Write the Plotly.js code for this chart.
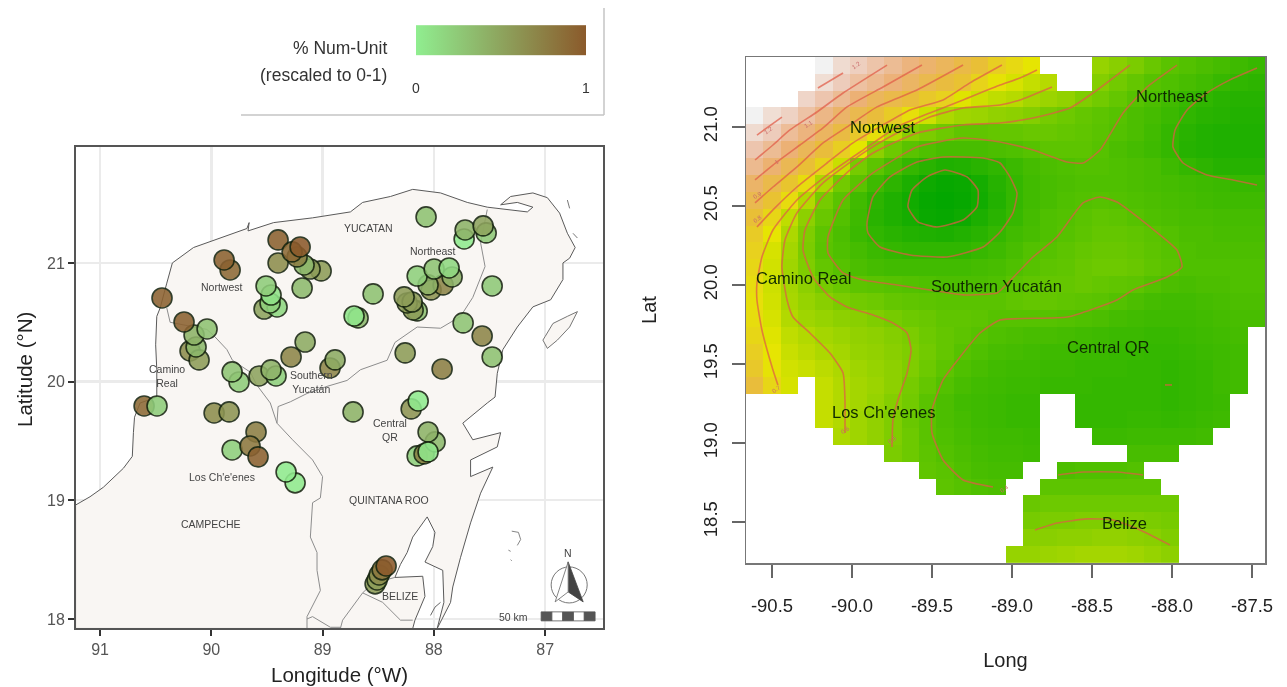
<!DOCTYPE html>
<html>
<head>
<meta charset="utf-8">
<script src="https://cdn.plot.ly/plotly-3.0.1.min.js"></script>
<style>html,body{margin:0;padding:0;background:#fff}#chart{width:1287px;height:687px;filter:blur(0.45px)}</style>
</head>
<body>
<div id="chart"></div>
<script>
var N = null;
// ---------- left map: sites ----------
var siteLon = [89.831,89.885,89.40,89.013,89.112,89.166,89.40,89.229,89.274,89.202,89.184,89.526,89.409,89.472,89.463,89.508,
  90.443,90.191,90.11,90.137,90.155,90.245,90.038,89.751,89.813,89.571,89.418,89.463,89.283,89.157,88.933,88.888,
  88.07,87.728,87.719,87.53,87.557,88.546,88.681,88.717,88.15,88.186,88.24,88.195,88.267,88.025,87.917,88.052,87.836,88.15,87.998,87.863,
  87.476,87.737,87.566,87.476,88.258,87.926,
  90.604,90.488,89.975,89.84,89.598,89.813,89.652,89.58,89.247,89.328,88.726,88.204,88.141,88.15,88.088,87.989,88.052,88.052,
  88.528,88.51,88.492,88.465,88.429];
var siteLat = [20.941,21.025,21.194,20.933,20.949,20.983,21.0,21.051,21.093,21.135,20.789,20.612,20.629,20.663,20.730,20.806,
  20.705,20.259,20.183,20.292,20.393,20.503,20.444,19.997,20.082,20.048,20.048,20.099,20.208,20.334,20.115,20.183,
  21.388,21.202,21.278,21.253,21.312,20.739,20.537,20.553,20.596,20.604,20.663,20.671,20.714,20.773,20.815,20.815,20.882,20.890,20.949,20.958,
  20.806,20.495,20.385,20.208,20.242,20.107,
  19.795,19.795,19.736,19.745,19.576,19.424,19.458,19.366,19.147,19.239,19.745,19.770,19.837,19.374,19.391,19.492,19.576,19.408,
  18.296,18.329,18.371,18.414,18.447];
var siteValue = [.9,.95,.95,.55,.55,.35,.65,.75,.9,1,.35,.5,.15,.2,.08,.22,
  .95,.65,.55,.35,.4,.95,.3,.22,.28,.5,.2,.4,.7,.45,.7,.45,
  .3,.02,.4,.25,.5,.3,.35,.05,.3,.55,.55,.55,.55,.6,.7,.4,.4,.2,.28,.15,
  .25,.28,.7,.3,.55,.75,
  .9,.22,.65,.6,.75,.2,.8,.95,.03,.02,.4,.6,.02,.2,.75,.35,.4,.05,
  .55,.55,.65,.8,1];
// ---------- left map: coast and borders (degrees west, degrees north) ----------
var coastLon = [91.22,91.22,91.09,90.97,90.79,90.71,90.70,90.69,90.64,90.49,90.49,90.50,90.49,90.46,90.40,90.35,90.16,89.89,89.68,89.66,89.67,89.44,89.09,88.75,88.64,88.39,88.19,87.94,87.70,87.52,87.34,87.16,87.11,87.25,87.40,87.31,87.11,86.98,86.87,86.80,86.73,86.78,86.84,86.84,86.95,87.11,87.25,87.38,87.43,87.45,87.52,87.74,87.65,87.40,87.43,87.67,87.67,87.47,87.58,87.67,87.76,87.83,87.85,87.94,87.97,87.91,87.92,88.08,88.01,87.99,88.06,88.19,88.24,88.30,88.35,88.10,88.08,88.17,88.19,91.22];
var coastLat = [17.92,18.96,19.03,19.11,19.27,19.37,19.57,19.70,19.82,19.87,20.10,20.31,20.55,20.62,20.83,21.00,21.13,21.22,21.29,21.34,21.27,21.34,21.38,21.43,21.51,21.56,21.62,21.59,21.51,21.47,21.45,21.43,21.47,21.51,21.49,21.56,21.59,21.55,21.42,21.25,21.13,21.04,21.00,20.86,20.69,20.63,20.46,20.27,20.07,19.87,19.82,19.65,19.51,19.57,19.45,19.34,19.20,19.28,19.06,18.81,18.52,18.27,18.14,17.97,17.92,18.14,18.41,18.48,18.61,18.73,18.86,18.69,18.56,18.46,18.35,18.36,18.19,17.99,17.92,17.92];
var cozumelLon = [87.00,86.93,86.80,86.71,86.78,86.89,86.98,87.02,87.00];
var cozumelLat = [20.38,20.49,20.55,20.59,20.46,20.35,20.28,20.35,20.38];
var mujeresLon = [86.80,86.78,N,86.75,86.71];
var mujeresLat = [21.53,21.46,N,21.25,21.21];
var chinchorroLon = [87.30,87.24,87.22,87.25,N,87.33,87.31,N,87.31,87.30];
var chinchorroLat = [18.74,18.73,18.67,18.62,N,18.58,18.57,N,18.50,18.49];
var keysLon = [87.99,87.94,N,88.03,87.99];
var keysLat = [18.10,18.14,N,18.03,18.10];
var borderALon = [90.40,90.37,90.04,89.97,89.86,89.81,89.65,89.59,89.47,89.41];
var borderALat = [20.62,20.50,20.44,20.38,20.27,20.18,20.08,19.97,19.82,19.65];
var borderBLon = [89.41,89.27,89.09,89.00,89.02,89.09,89.11,89.05,89.05,89.02,89.14,89.14];
var borderBLat = [19.65,19.51,19.34,19.20,19.02,18.98,18.69,18.56,18.41,18.24,18.02,17.92];
var borderCLon = [89.41,89.40,89.29,89.14,88.96,88.78,88.66,88.42,88.35,88.15,87.94,87.76,87.65,87.54,87.58,87.52];
var borderCLat = [19.65,19.79,19.83,19.90,19.96,20.01,20.10,20.18,20.33,20.46,20.45,20.55,20.71,20.97,21.17,21.45];
var belizeLineLon = [88.35,88.55,88.64,88.82,88.84,N,88.64,88.46,88.30,88.19,N,89.14,89.09,88.93,88.84];
var belizeLineLat = [18.35,18.30,18.22,17.99,17.92,N,18.22,18.14,17.99,17.99,N,18.00,18.02,17.93,17.93];
var arrowDarkLon = [86.793,86.658,86.793,86.793];
var arrowDarkLat = [18.481,18.144,18.228,18.481];
var arrowLightLon = [86.793,86.91,86.793,86.793];
var arrowLightLat = [18.481,18.144,18.228,18.481];
var scaleEdges = [87.036,86.939,86.842,86.745,86.648,86.551];
var mapLabels = ["YUCATAN","Northeast","Nortwest","Camino<br>Real","Southern<br>Yucatán","Central<br>QR","Los Ch'e'enes","CAMPECHE","QUINTANA ROO","BELIZE","50 km","N"];
var mapLabelLon = [88.591,88.007,89.903,90.398,89.103,88.393,89.903,90.002,88.402,88.303,87.288,86.793];
var mapLabelLat = [21.295,21.101,20.798,20.048,19.997,19.593,19.197,18.801,19.003,18.195,18.017,18.56];
var mapTicksX = [91,90,89,88,87];
var mapTicksY = [18,19,20,21];
// ---------- right map: surface values, rows listed north to south ----------
var surfaceRows = [
[N,N,N,N,1.30,1.22,1.18,1.13,1.08,1.03,.99,.95,.90,.86,.81,.77,.73,N,N,N,.55,.52,.49,.45,.41,.39,.37,.35,.33,.31],
[N,N,N,N,1.23,1.17,1.11,1.07,1.02,.97,.92,.88,.85,.79,.74,.69,.65,.62,N,N,.51,.47,.44,.40,.38,.36,.34,.31,.29,.28],
[N,N,N,1.2,1.14,1.08,1.01,.95,.91,.87,.83,.8,.71,.67,.64,.62,.58,.56,.54,.5,.47,.44,.40,.37,.34,.31,.29,.27,.26,.26],
[1.30,1.23,1.19,1.12,1.05,.98,.92,.87,.82,.75,.67,.6,.57,.56,.54,.53,.51,.48,.46,.44,.42,.40,.37,.35,.32,.29,.27,.26,.25,.25],
[1.22,1.17,1.09,1.03,.96,.89,.83,.75,.62,.52,.49,.46,.43,.43,.44,.44,.45,.45,.44,.43,.41,.39,.37,.34,.3,.27,.25,.24,.24,.24],
[1.14,1.08,1.01,.94,.87,.81,.72,.53,.46,.41,.38,.36,.36,.36,.37,.38,.40,.42,.42,.42,.40,.37,.35,.33,.3,.26,.25,.24,.24,.24],
[1.07,1.0,.93,.86,.79,.66,.48,.42,.36,.3,.27,.24,.25,.27,.29,.32,.35,.37,.38,.39,.39,.38,.37,.36,.33,.3,.28,.26,.26,.26],
[.98,.91,.84,.76,.6,.47,.41,.33,.28,.23,.19,.17,.18,.21,.26,.3,.34,.36,.37,.38,.38,.38,.37,.36,.35,.34,.33,.32,.31,.31],
[.92,.85,.76,.61,.48,.41,.34,.28,.24,.2,.17,.16,.17,.2,.25,.3,.34,.36,.38,.39,.4,.39,.38,.37,.36,.35,.34,.33,.33,.33],
[.86,.78,.64,.53,.45,.39,.33,.27,.24,.21,.18,.17,.19,.23,.27,.31,.35,.38,.39,.41,.43,.42,.40,.38,.37,.36,.36,.35,.35,.35],
[.82,.73,.6,.5,.42,.37,.32,.29,.27,.25,.24,.23,.25,.27,.3,.34,.36,.38,.40,.42,.44,.44,.43,.41,.39,.37,.37,.36,.36,.36],
[.80,.69,.58,.49,.41,.38,.35,.32,.3,.29,.29,.29,.29,.31,.33,.36,.39,.40,.42,.44,.45,.45,.44,.42,.40,.38,.37,.37,.37,.37],
[.78,.68,.57,.5,.44,.4,.37,.35,.34,.34,.34,.34,.34,.35,.36,.38,.40,.42,.43,.45,.46,.46,.45,.43,.41,.38,.38,.38,.38,.38],
[.76,.67,.58,.53,.48,.45,.42,.41,.4,.39,.38,.37,.37,.37,.38,.41,.43,.44,.44,.45,.44,.43,.42,.39,.37,.36,.37,.37,.38,.38],
[.75,.68,.59,.55,.52,.49,.47,.46,.44,.43,.42,.41,.41,.41,.41,.43,.44,.44,.43,.42,.41,.39,.37,.35,.34,.34,.35,.36,.37,.37],
[.76,.69,.61,.57,.55,.53,.52,.5,.48,.46,.45,.43,.43,.42,.4,.4,.4,.4,.39,.38,.37,.35,.34,.33,.33,.33,.34,.35,.36,.36],
[.78,.71,.64,.61,.58,.56,.54,.53,.51,.49,.46,.44,.42,.4,.38,.37,.36,.36,.35,.34,.33,.32,.32,.31,.31,.32,.33,.34,.35,N],
[.81,.73,.66,.63,.6,.58,.55,.54,.52,.5,.47,.44,.4,.38,.36,.35,.34,.33,.33,.32,.32,.31,.31,.3,.3,.31,.32,.33,.34,N],
[.83,.74,.68,.66,.63,.6,.57,.55,.53,.5,.46,.42,.38,.36,.34,.33,.33,.32,.32,.31,.31,.31,.3,.3,.29,.3,.31,.33,.34,N],
[.87,.78,.69,N,.65,.61,.58,.56,.53,.48,.44,.39,.36,.34,.33,.32,.32,.31,.31,.31,.3,.3,.3,.3,.29,.3,.31,.33,.34,N],
[N,N,N,N,.65,.61,.58,.55,.51,.47,.41,.37,.34,.33,.32,.31,.31,N,N,.3,.3,.3,.3,.3,.29,.3,.31,.32,N,N],
[N,N,N,N,.65,.61,.57,.54,.5,.45,.41,.37,.35,.33,.32,.31,.31,N,N,.3,.3,.3,.31,.31,.3,.31,.32,.33,N,N],
[N,N,N,N,N,.6,.57,.54,.5,.46,.41,.38,.36,.34,.33,.33,.32,N,N,N,.32,.32,.33,.33,.33,.33,.34,N,N,N],
[N,N,N,N,N,N,N,N,.49,.46,.42,.39,.37,.35,.34,.34,.33,N,N,N,N,N,.36,.36,.36,N,N,N,N,N],
[N,N,N,N,N,N,N,N,N,N,.43,.41,.38,.36,.35,.35,N,N,.37,.38,.38,.38,.39,N,N,N,N,N,N,N],
[N,N,N,N,N,N,N,N,N,N,N,.42,.4,.38,.37,N,N,.42,.42,.42,.42,.42,.42,.42,N,N,N,N,N,N],
[N,N,N,N,N,N,N,N,N,N,N,N,N,N,N,N,.45,.46,.46,.46,.46,.46,.46,.46,.46,N,N,N,N,N],
[N,N,N,N,N,N,N,N,N,N,N,N,N,N,N,N,.48,.49,.49,.5,.5,.5,.5,.49,.48,N,N,N,N,N],
[N,N,N,N,N,N,N,N,N,N,N,N,N,N,N,N,.52,.52,.53,.53,.54,.54,.53,.52,.5,N,N,N,N,N],
[N,N,N,N,N,N,N,N,N,N,N,N,N,N,N,.55,.55,.56,.57,.58,.58,.58,.57,.55,.53,N,N,N,N,N]
];
// ---------- right map: contour lines ----------
var c12Lon = [-90.594,-90.438,N,-90.213,-90.056];
var c12Lat = [20.949,21.063,N,21.247,21.342];
var c11Lon = [-90.606,-90.494,-90.388,-90.219,-90.056,-89.781];
var c11Lat = [20.791,20.886,20.981,21.095,21.215,21.392];
var c10Lon = [-90.606,-90.494,-90.325,-90.181,-90.031,-89.806,-89.563];
var c10Lat = [20.665,20.759,20.886,20.994,21.127,21.253,21.392];
var c09Lon = [-90.606,-90.494,-90.344,-90.181,-90.012,-89.844,-89.594,-89.306];
var c09Lat = [20.519,20.62,20.747,20.899,21.013,21.127,21.234,21.392];
var c08Lon = [-90.594,-90.494,-90.344,-90.156,-89.994,-89.806,-89.638,-89.431,-89.263,-89.063];
var c08Lat = [20.367,20.475,20.62,20.772,20.899,21.013,21.108,21.171,21.279,21.392];
var c07Lon = [-90.463,-90.494,-90.563,-90.594,-90.594,-90.563,-90.494,-90.344,-90.138,-89.931,-89.719,-89.513,-89.306,-89.075,-88.95,-88.844];
var c07Lat = [19.367,19.462,19.715,19.905,20.012,20.177,20.348,20.538,20.709,20.854,21.0,21.089,21.171,21.266,21.31,21.361];
var c06Lon = [-90.044,-90.044,-90.056,-90.138,-90.263,-90.369,-90.406,-90.438,-90.419,-90.344,-90.181,-89.931,-89.719,-89.513,-89.306,-89.075,-88.95,-88.75];
var c06Lat = [19.063,19.272,19.443,19.569,19.696,19.797,19.905,20.114,20.285,20.456,20.646,20.835,20.962,21.063,21.12,21.139,21.171,21.253];
var c05Lon = [-89.75,-89.744,-89.713,-89.656,-89.631,-89.656,-89.744,-89.869,-90.031,-90.138,-90.244,-90.306,-90.294,-90.2,-90.012,-89.869,-89.594,-89.306,-89.075,-88.869,-88.638,-88.494,-88.263];
var c05Lat = [18.974,19.145,19.272,19.443,19.588,19.696,19.759,19.81,19.861,19.924,20.05,20.221,20.348,20.538,20.728,20.835,20.962,21.013,21.025,21.057,21.12,21.215,21.392];
var c04Lon = [-87.969,-88.156,-88.306,-88.45,-88.556,-88.656,-88.869,-89.075,-89.306,-89.594,-89.869,-90.056,-90.15,-90.15,-90.056,-89.931,-89.719,-89.513,-89.306,-89.094,-89.056,-88.869,-88.719,-88.556,-88.45,-88.344,-88.137,-87.969,-87.938,-88.031,-88.244,-88.344,-88.656,-89.075,-89.2,-89.325,-89.431,-89.5,-89.5,-89.431,-89.306,-89.119];
var c04Lat = [21.392,21.253,21.089,20.854,20.772,20.778,20.854,20.905,20.93,20.873,20.709,20.538,20.304,20.202,20.076,20.031,20.0,19.968,19.937,19.949,19.981,20.177,20.304,20.519,20.557,20.525,20.367,20.221,20.114,20.05,19.968,19.905,19.797,19.778,19.696,19.544,19.399,19.209,19.063,18.892,18.765,18.721];
var c03EastLon = [-87.469,-87.638,-87.781,-87.906,-87.981,-87.994,-87.931,-87.781,-87.619,-87.469];
var c03EastLat = [21.373,21.298,21.215,21.108,20.981,20.873,20.772,20.696,20.665,20.633];
var c03Lon = [-89.906,-89.869,-89.763,-89.594,-89.431,-89.181,-89.075,-89.013,-88.969,-88.994,-89.075,-89.181,-89.406,-89.638,-89.825,-89.9,-89.906];
var c03Lat = [20.392,20.557,20.684,20.778,20.81,20.804,20.772,20.684,20.582,20.456,20.335,20.24,20.177,20.19,20.24,20.329,20.392];
var c02Lon = [-89.419,-89.281,-89.213,-89.219,-89.306,-89.469,-89.588,-89.65,-89.625,-89.531,-89.419];
var c02Lat = [20.728,20.684,20.601,20.494,20.411,20.367,20.399,20.494,20.601,20.684,20.728];
var c03QrLon = [-88.044,-88.0];
var c03QrLat = [19.367,19.367];
var c04BelizeLon = [-88.713,-88.556,-88.344,-88.181];
var c04BelizeLat = [18.797,18.816,18.816,18.797];
var c05BelizeLon = [-88.856,-88.719,-88.531,-88.369,-88.2,-88.013];
var c05BelizeLat = [18.449,18.493,18.519,18.512,18.449,18.354];
var regionLabels = ["Nortwest","Northeast","Camino Real","Southern Yucatán","Central QR","Los Ch'e'enes","Belize"];
var regionLon = [-89.806,-88.0,-90.3,-89.1,-88.4,-89.8,-88.3];
var regionLat = [21.0,21.196,20.044,19.994,19.607,19.196,18.493];
var levelLabels = ["1.2","1.2","1.1","1","0.9","0.8","0.7","0.6","0.5","0.4"];
var levelLon = [-89.97,-90.52,-90.27,-90.47,-90.59,-90.59,-90.47,-90.04,-89.75,-89.05];
var levelLat = [21.39,20.98,21.02,20.78,20.57,20.42,19.34,19.08,19.02,18.71];
var surfTicksX = [-90.5,-90,-89.5,-89,-88.5,-88,-87.5];
var surfTickTextX = ["-90.5","-90.0","-89.5","-89.0","-88.5","-88.0","-87.5"];
var surfTicksY = [18.5,19,19.5,20,20.5,21];
var surfTickTextY = ["18.5","19.0","19.5","20.0","20.5","21.0"];

var FONT = '"Liberation Sans", Arial, sans-serif';
function mapLine(lon, lat, color, width) {
  return {type:'scatter', mode:'lines', x:lon, y:lat, xaxis:'x', yaxis:'y', hoverinfo:'skip', showlegend:false,
          line:{color:color, width:width}};
}
function mapFill(lon, lat, fill, edge, width) {
  return {type:'scatter', mode:'lines', x:lon, y:lat, xaxis:'x', yaxis:'y', hoverinfo:'skip', showlegend:false,
          fill:'toself', fillcolor:fill, line:{color:edge, width:width}};
}
function contourLine(lon, lat) {
  return {type:'scatter', mode:'lines', x:lon, y:lat, xaxis:'x2', yaxis:'y2', hoverinfo:'skip', showlegend:false,
          line:{color:'rgba(225,90,70,0.72)', width:1.6, shape:'spline', smoothing:0.5}};
}

var traces = [
  mapFill(coastLon, coastLat, '#F9F6F3', '#5a5a5a', 1),
  mapFill(cozumelLon, cozumelLat, '#F9F6F3', '#666', 0.9),
  mapLine(mujeresLon, mujeresLat, '#666', 0.9),
  mapLine(chinchorroLon, chinchorroLat, '#777', 0.9),
  mapLine(keysLon, keysLat, '#666', 1),
  mapLine(borderALon, borderALat, '#8d8d8d', 1),
  mapLine(borderBLon, borderBLat, '#8d8d8d', 1),
  mapLine(borderCLon, borderCLat, '#8d8d8d', 1),
  mapLine(belizeLineLon, belizeLineLat, '#8d8d8d', 1),
  mapFill(arrowDarkLon, arrowDarkLat, '#444', '#444', 0.8),
  mapFill(arrowLightLon, arrowLightLat, '#fff', '#666', 0.8),
  {type:'scatter', mode:'markers', x:siteLon, y:siteLat, xaxis:'x', yaxis:'y', hoverinfo:'skip', showlegend:false,
   marker:{size:20, color:siteValue, cmin:0, cmax:1, opacity:0.88,
     colorscale:[[0,'#90EE90'],[1,'#8B5A2B']],
     line:{color:'#16240f', width:1.6},
     showscale:true,
     colorbar:{orientation:'h', x:416/1287, xanchor:'left', xref:'paper', y:1-97/687, yanchor:'bottom', yref:'paper',
       len:170, lenmode:'pixels', thickness:30, thicknessmode:'pixels',
       tickmode:'array', tickvals:[0,1], ticktext:['0','1'], ticks:'outside', ticklen:22, tickcolor:'rgba(0,0,0,0)',
       tickfont:{family:FONT, size:14, color:'#333'}, outlinewidth:0, borderwidth:0, bgcolor:'rgba(0,0,0,0)', xpad:0, ypad:0}}},
  {type:'heatmap', z:surfaceRows.slice().reverse(), x0:-90.6084, dx:0.1081, y0:18.2934, dy:0.1068, xaxis:'x2', yaxis:'y2',
   zmin:0.15, zmax:1.3, showscale:false, hoverinfo:'skip', zsmooth:false, hoverongaps:false,
   colorscale:[[0,'#00A600'],[0.25,'#63C600'],[0.5,'#E6E600'],[0.625,'#E9BD3A'],[0.75,'#ECB176'],[0.875,'#EDC8B5'],[1,'#F2F2F2']]},
  contourLine(c12Lon, c12Lat), contourLine(c11Lon, c11Lat), contourLine(c10Lon, c10Lat), contourLine(c09Lon, c09Lat),
  contourLine(c08Lon, c08Lat), contourLine(c07Lon, c07Lat), contourLine(c06Lon, c06Lat), contourLine(c05Lon, c05Lat),
  contourLine(c04Lon, c04Lat), contourLine(c03EastLon, c03EastLat), contourLine(c03Lon, c03Lat), contourLine(c02Lon, c02Lat),
  contourLine(c03QrLon, c03QrLat), contourLine(c04BelizeLon, c04BelizeLat), contourLine(c05BelizeLon, c05BelizeLat)
];

var annotations = [];
mapLabels.forEach(function(t, i) {
  annotations.push({text:t, x:mapLabelLon[i], y:mapLabelLat[i], xref:'x', yref:'y', showarrow:false,
    font:{family:FONT, size:10.5, color:'#444'}, align:'center'});
});
regionLabels.forEach(function(t, i) {
  annotations.push({text:t, x:regionLon[i], y:regionLat[i], xref:'x2', yref:'y2', showarrow:false,
    font:{family:FONT, size:16.5, color:'#0f2a00'}});
});
levelLabels.forEach(function(t, i) {
  annotations.push({text:t, x:levelLon[i], y:levelLat[i], xref:'x2', yref:'y2', showarrow:false, textangle:-35,
    font:{family:FONT, size:6, color:'#c96a6a'}});
});
annotations.push(
  {text:'% Num-Unit', x:389/1287, y:1-48/687, xref:'paper', yref:'paper', xanchor:'right', yanchor:'middle', showarrow:false, font:{family:FONT, size:17.5, color:'#333'}},
  {text:'(rescaled to 0-1)', x:389/1287, y:1-75/687, xref:'paper', yref:'paper', xanchor:'right', yanchor:'middle', showarrow:false, font:{family:FONT, size:17.5, color:'#333'}},
  {text:'Latitude (°N)', x:24/1287, y:1-370/687, xref:'paper', yref:'paper', xanchor:'center', yanchor:'middle', textangle:-90, showarrow:false, font:{family:FONT, size:20.5, color:'#222'}}
);

var shapes = [
  {type:'line', xref:'paper', yref:'paper', x0:241/1287, x1:604/1287, y0:1-115/687, y1:1-115/687, line:{color:'#c4c4c4', width:1.5}},
  {type:'line', xref:'paper', yref:'paper', x0:604/1287, x1:604/1287, y0:1-115/687, y1:1-8/687, line:{color:'#c4c4c4', width:1.5}},
  {type:'circle', xref:'x', yref:'y', x0:86.946, x1:86.622, y0:18.135, y1:18.439, line:{color:'#777', width:1}, layer:'below'}
];
for (var s = 0; s < scaleEdges.length - 1; s++) {
  shapes.push({type:'rect', xref:'x', yref:'y', x0:scaleEdges[s], x1:scaleEdges[s+1], y0:17.984, y1:18.06,
    fillcolor:(s % 2 === 0) ? '#555' : '#fff', line:{color:'#555', width:0.8}});
}

var layout = {
  width:1287, height:687, margin:{l:0, r:0, t:0, b:0, autoexpand:false},
  paper_bgcolor:'#fff', plot_bgcolor:'#fff', showlegend:false, font:{family:FONT},
  xaxis:{domain:[76/1287, 603/1287], range:[91.216, 86.48], tickmode:'array', tickvals:mapTicksX, ticktext:mapTicksX.map(String),
    showgrid:true, gridcolor:'#ebebeb', gridwidth:2.4, zeroline:false, showline:true, mirror:true, linecolor:'#555', linewidth:2,
    ticks:'outside', ticklen:6, tickwidth:2, tickcolor:'#333', tickfont:{family:FONT, size:16, color:'#555'},
    title:{text:'Longitude (°W)', font:{family:FONT, size:20.5, color:'#222'}, standoff:10}, anchor:'y'},
  yaxis:{domain:[1-628/687, 1-147/687], range:[17.924, 21.977], tickmode:'array', tickvals:mapTicksY, ticktext:mapTicksY.map(String),
    showgrid:true, gridcolor:'#ebebeb', gridwidth:2.4, zeroline:false, showline:true, mirror:true, linecolor:'#555', linewidth:2,
    ticks:'outside', ticklen:6, tickwidth:2, tickcolor:'#333', tickfont:{family:FONT, size:16, color:'#555'}, anchor:'x'},
  xaxis2:{domain:[746/1287, 1265/1287], range:[-90.6625, -87.419], tickmode:'array', tickvals:surfTicksX, ticktext:surfTickTextX,
    showgrid:false, zeroline:false, showline:true, mirror:true, linecolor:'#777', linewidth:1.5, layer:'below traces',
    ticks:'outside', ticklen:13, tickwidth:1.5, tickcolor:'#666', tickfont:{family:FONT, size:18.5, color:'#222'}, ticklabelstandoff:12,
    title:{text:'Long', font:{family:FONT, size:20, color:'#222'}, standoff:38}, anchor:'y2'},
  yaxis2:{domain:[1-563/687, 1-57/687], range:[18.24, 21.443], tickmode:'array', tickvals:surfTicksY, ticktext:surfTickTextY, tickangle:-90,
    showgrid:false, zeroline:false, showline:true, mirror:true, linecolor:'#777', linewidth:1.5, layer:'below traces',
    ticks:'outside', ticklen:13, tickwidth:1.5, tickcolor:'#666', tickfont:{family:FONT, size:18.5, color:'#222'}, ticklabelstandoff:7,
    title:{text:'Lat', font:{family:FONT, size:20, color:'#222'}, standoff:38}, anchor:'x2'},
  annotations:annotations, shapes:shapes
};
Plotly.newPlot('chart', traces, layout, {displayModeBar:false, staticPlot:true});
</script>
</body>
</html>
